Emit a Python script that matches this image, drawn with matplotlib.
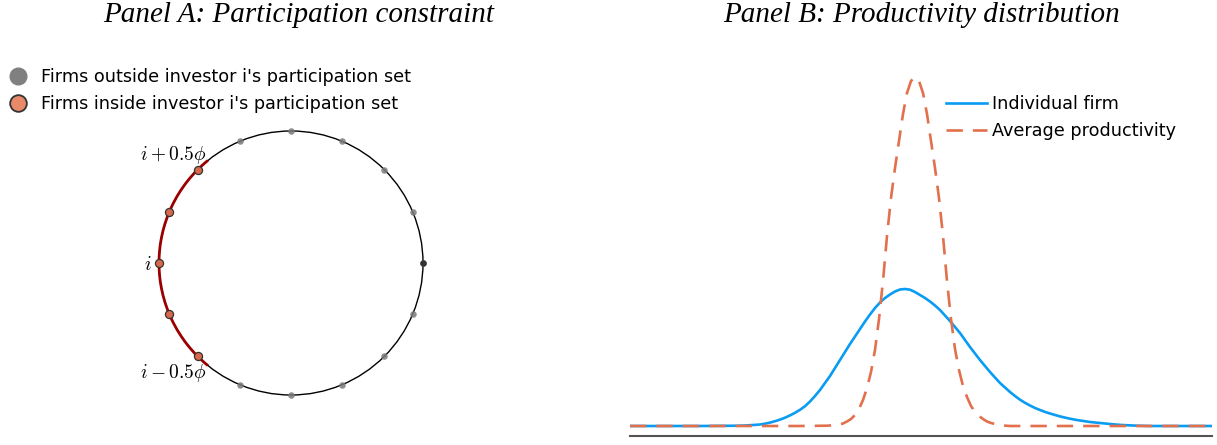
import numpy as np
import matplotlib
matplotlib.use("Agg")
import matplotlib.pyplot as plt
from matplotlib.lines import Line2D
from matplotlib.patches import Arc, Circle

plt.rcParams['font.family'] = ['DejaVu Sans']
plt.rcParams['mathtext.fontset'] = 'cm'

# ---- panel A data ----
n_firms = 16
inside_idx = [6, 7, 8, 9, 10]          # firms around angle 180 deg
highlight_idx = 0                      # darker dot on the right
arc_half_width = 51                    # degrees either side of investor i
point_labels = [r"$i+0.5\phi$", r"$i$", r"$i-0.5\phi$"]
legend_a = ["Firms outside investor i's participation set",
            "Firms inside investor i's participation set"]

# ---- panel B data (height above baseline) ----
indiv_x = [630, 700, 740, 745, 750, 755, 760, 765, 770, 775, 780, 785, 790, 795,
           800, 805, 810, 815, 820, 825, 830, 835, 840, 845, 850, 855, 860, 865,
           870, 875, 880, 885, 890, 895, 900, 905, 910, 915, 920, 925, 930, 935,
           940, 945, 950, 955, 960, 965, 970, 975, 980, 985, 990, 995, 1000, 1005,
           1010, 1015, 1020, 1025, 1030, 1035, 1040, 1045, 1050, 1055, 1060, 1065,
           1070, 1075, 1080, 1090, 1100, 1110, 1120, 1135, 1150, 1212]
indiv_y = [0, 0, 0.3, 0.5, 0.8, 1.1, 1.5, 2.3, 3.4, 4.8, 6.4, 8.3, 10.6, 13.2,
           16.2, 19.8, 24.5, 30, 36, 43, 50, 58, 66, 74, 82, 89.5, 97, 104.5,
           111.5, 118, 123.5, 128, 131.5, 134.5, 136.5, 137, 136.3, 134, 131, 128, 124.5, 120.5,
           116, 110.5, 105, 99, 93, 86, 79, 72.5, 66, 60, 54, 48.5, 43, 38.5,
           34, 30, 26.3, 23.2, 20.5, 18, 16, 14.1, 12.5, 11, 9.6, 8.4,
           7.3, 6.3, 5.5, 4, 3, 2, 1.1, 0.4, 0, 0]
avg_x = [630, 800, 827, 835, 839, 843, 847, 851, 855, 859, 863, 867, 871, 875,
         879, 883, 887, 891, 895, 899, 903, 907, 911, 915, 919, 923, 927, 931,
         935, 939, 943, 947, 951, 955, 959, 963, 967, 971, 975, 979, 983, 987,
         991, 995, 1003, 1010, 1212]
avg_y = [0, 0, 0.3, 0.8, 1.5, 2.5, 4.5, 7, 11, 17, 26, 38, 54, 76,
         107, 145, 190, 228, 258, 285, 312, 333, 345, 349, 345, 333, 312, 285,
         258, 228, 190, 145, 107, 77, 56, 40, 29, 20, 14, 10, 7, 4.5,
         3, 2, 0.5, 0, 0]
legend_b = ["Individual firm", "Average productivity"]

W, H = 1217, 445
fig = plt.figure(figsize=(W / 100, H / 100), dpi=100)

def px(x0, y0, x1, y1):
    return [x0 / W, 1 - y1 / H, (x1 - x0) / W, (y1 - y0) / H]

# ---------------- Panel A ----------------
axA = fig.add_axes(px(0, 0, 608, 445))
axA.set_xlim(0, 608)
axA.set_ylim(445, 0)
axA.axis('off')

cx, cy, r = 291, 263, 132
axA.add_patch(Circle((cx, cy), r, fill=False, ec='black', lw=1.0, zorder=1))
axA.add_patch(Arc((cx, cy), 2 * r, 2 * r, theta1=180 - arc_half_width,
                  theta2=180 + arc_half_width, color='#9B0000', lw=2.0, zorder=2))

ang = np.deg2rad(np.arange(n_firms) * 360 / n_firms)
xs = cx + r * np.cos(ang)
ys = cy - r * np.sin(ang)
outside = [k for k in range(n_firms) if k not in inside_idx]
axA.scatter(xs[outside], ys[outside], s=22, color='#7a7a7a', alpha=0.85,
            lw=0, zorder=3)
axA.scatter(xs[highlight_idx], ys[highlight_idx], s=22, color='#333333', lw=0, zorder=4)
axA.scatter(xs[inside_idx], ys[inside_idx], s=34, color='#D9684A',
            edgecolors='#333333', linewidths=0.9, zorder=4)

axA.text(207, 155, point_labels[0], ha='right', va='center', fontsize=14)
axA.text(152, 264, point_labels[1], ha='right', va='center', fontsize=14)
axA.text(207, 373, point_labels[2], ha='right', va='center', fontsize=14)

hA = [Line2D([], [], ls='', marker='o', ms=12, color='#808080', mec='#808080'),
      Line2D([], [], ls='', marker='o', ms=12, color='#E8896A', mec='#333333', mew=1.3)]
fig.legend(hA, legend_a, loc='upper left', bbox_to_anchor=(7 / W, 1 - 68 / H),
           frameon=False, fontsize=12.7, handletextpad=0.7, borderpad=0,
           borderaxespad=0, labelspacing=0.5, handlelength=1.2)

fig.text(299 / W, 1 - 15 / H, "Panel A: Participation constraint", ha='center',
         va='center', fontsize=21, family='Liberation Serif', style='italic')

# ---------------- Panel B ----------------
axB = fig.add_axes(px(630, 71, 1212, 436))
axB.plot(indiv_x, indiv_y, color='#0A9CF2', lw=1.9, label=legend_b[0])
axB.plot(avg_x, avg_y, color='#E2704C', lw=1.9, dashes=(6.2, 3.8), label=legend_b[1])
axB.set_xlim(630, 1212)
axB.set_ylim(-10, 355)
axB.set_xticks([])
axB.set_yticks([])
for s in ['top', 'left', 'right']:
    axB.spines[s].set_visible(False)
axB.spines['bottom'].set_color('#555555')
axB.spines['bottom'].set_linewidth(1.5)
axB.legend(loc='upper left', bbox_to_anchor=(946 / W, 1 - 95 / H),
           bbox_transform=fig.transFigure, frameon=False, fontsize=12.7,
           handlelength=2.3, handletextpad=0.3, borderpad=0, borderaxespad=0,
           labelspacing=0.5)

fig.text(922 / W, 1 - 15 / H, "Panel B: Productivity distribution", ha='center',
         va='center', fontsize=21, family='Liberation Serif', style='italic')

fig.savefig("out.png", dpi=100)
